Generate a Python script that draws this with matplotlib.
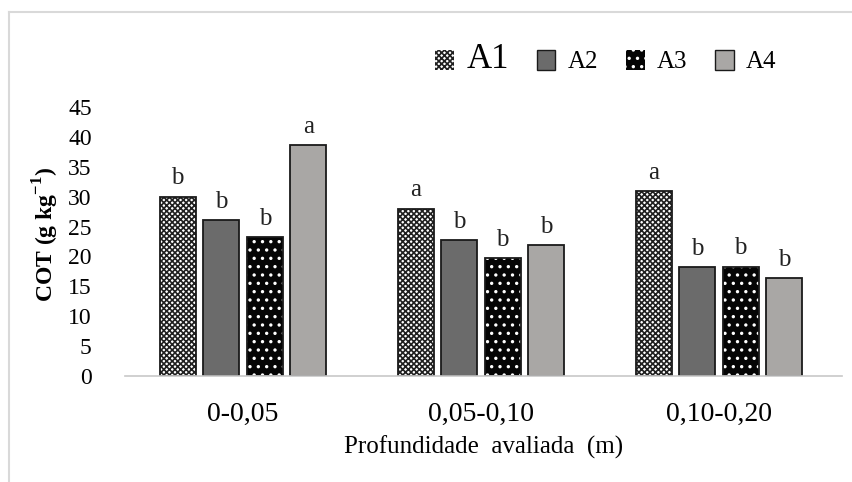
import numpy as np
import matplotlib
matplotlib.use("Agg")
from matplotlib import pyplot as plt
from matplotlib.lines import Line2D

plt.rcParams['font.family'] = ['Liberation Serif', 'DejaVu Serif']
plt.rcParams['mathtext.fontset'] = 'custom'
plt.rcParams['mathtext.rm'] = 'Liberation Serif'
plt.rcParams['mathtext.bf'] = 'Liberation Serif:bold'
plt.rcParams['hatch.linewidth'] = 1.2

depths = ["0-0,05", "0,05-0,10", "0,10-0,20"]
series = ["A1", "A2", "A3", "A4"]
cot = {
    "A1": [30.0, 28.0, 31.0],
    "A2": [26.1, 22.7, 18.2],
    "A3": [23.2, 19.7, 18.3],
    "A4": [38.6, 21.9, 16.4],
}
letters = {
    "A1": ["b", "a", "a"],
    "A2": ["b", "b", "b"],
    "A3": ["b", "b", "b"],
    "A4": ["a", "b", "b"],
}

#fill colour, hatch, hatch colour
styles = {
    "A1": ("#ffffff", "xxxxxx", "#202020"),
    "A2": ("#6b6b6b", None, None),
    "A3": ("#050505", "..", "#ffffff"),
    "A4": ("#a9a7a5", None, None),
}

fig = plt.figure(figsize=(8.52, 4.82), dpi=100)
ax = fig.add_axes([125 / 852, 1 - 376 / 482, (842 - 125) / 852, (376 - 107) / 482])

x = np.arange(len(depths))
width = 0.151
step = 0.183
handles = []
for i, s in enumerate(series):
    pos = x + (i - 1.5) * step
    face, hatch, hcol = styles[s]
    if hatch:
        ax.bar(pos, cot[s], width, color=face, hatch=hatch, edgecolor=hcol, linewidth=0)
    else:
        ax.bar(pos, cot[s], width, color=face, linewidth=0)
    ax.bar(pos, cot[s], width, fill=False, edgecolor="#1a1a1a", linewidth=1.3)
    for p, v, l in zip(pos, cot[s], letters[s]):
        ax.text(p, v + 1.2, l, ha="center", va="bottom", fontsize=18, color="#222222")
    h = plt.Rectangle((0, 0), 1, 1, facecolor=face, hatch=hatch,
                      edgecolor=hcol if hatch else "#1a1a1a", linewidth=0 if hatch else 1)
    handles.append(h)

ax.set_xlim(-0.496, 2.517)
ax.set_ylim(0, 45)
ax.set_yticks(np.arange(0, 46, 5))
ax.set_xticks(x)
ax.set_xticklabels(depths, fontsize=20)
ax.tick_params(axis="y", length=0, pad=24, labelsize=17)
ax.tick_params(axis="x", length=0, pad=19)
for sp in ["top", "right", "left"]:
    ax.spines[sp].set_visible(False)
ax.spines["bottom"].set_color("#c8c8c8")
ax.spines["bottom"].set_linewidth(1.2)

ax.set_xlabel("Profundidade  avaliada  (m)", fontsize=18, labelpad=6)
fig.text(46 / 852, 1 - 234 / 482, r"COT (g kg$^{\mathbf{-1}}$)", rotation=90,
         ha="center", va="center", fontsize=17, fontweight="bold")

leg = fig.legend(handles, series, loc="center", bbox_to_anchor=(606 / 852, 1 - 60 / 482),
                 ncol=4, frameon=False, fontsize=18, handlelength=0.75, handleheight=0.9,
                 handletextpad=0.5, columnspacing=1.1)
leg.get_texts()[0].set_fontsize(25)

#outer chart frame (top and left only visible)
fig.add_artist(Line2D([9 / 852, 1], [1 - 12 / 482, 1 - 12 / 482], color="#d9d9d9", lw=1.5))
fig.add_artist(Line2D([9 / 852, 9 / 852], [0, 1 - 12 / 482], color="#d9d9d9", lw=1.5))

fig.savefig("out.png", dpi=100)
